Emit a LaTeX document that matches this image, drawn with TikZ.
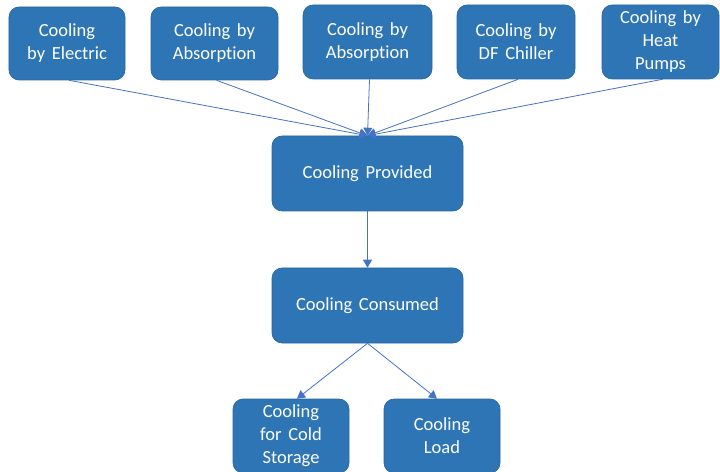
\documentclass[tikz,border=0pt]{standalone}
\usepackage{fontspec}
\setmainfont{Carlito}[WordSpace=1.6,Ligatures={NoCommon,TeX}]
\usetikzlibrary{arrows.meta}
\definecolor{boxblue}{RGB}{46,117,182}
\definecolor{boxedge}{RGB}{40,100,160}
\definecolor{linkblue}{RGB}{68,114,196}
\tikzset{
  box/.style={draw=boxedge, line width=0.6bp, fill=boxblue, rounded corners=10bp,
    text=white, align=center, inner sep=0pt,
    font=\fontsize{18.5bp}{23bp}\selectfont},
  link/.style={draw=linkblue, line width=0.8bp,
    -{Triangle[length=8bp,width=9bp]}}
}
\begin{document}
\begin{tikzpicture}[x=1bp,y=-1bp]
\useasboundingbox (0,0) rectangle (720,472);
\node[box, minimum width=116bp, minimum height=73bp] (b1) at (67,43.5) {Cooling\\by Electric};
\node[box, minimum width=127bp, minimum height=73bp] (b2) at (214.5,43.5) {Cooling by\\Absorption};
\node[box, minimum width=129bp, minimum height=74bp] (b3) at (367.5,42) {Cooling by\\Absorption};
\node[box, minimum width=118bp, minimum height=74bp] (b4) at (516,42) {Cooling by\\DF Chiller};
\node[box, minimum width=117bp, minimum height=74bp] (b5) at (660.5,42) {Cooling by\\Heat\\Pumps};
\node[box, minimum width=191bp, minimum height=75bp] (prov) at (367.5,173.5) {Cooling Provided};
\node[box, minimum width=191bp, minimum height=75bp] (cons) at (367.5,305.5) {Cooling Consumed};
\node[box, minimum width=116bp, minimum height=74bp] (cold) at (291,436) {Cooling\\for Cold\\Storage};
\node[box, minimum width=116bp, minimum height=74bp] (load) at (442,436) {Cooling\\Load};
\foreach \b in {b1,b2,b3,b4,b5}
  \draw[link] ([xshift=2bp]\b.south) -- (prov.north);
\draw[link] (prov.south) -- (cons.north);
\draw[link] (cons.south) -- ([xshift=6bp]cold.north);
\draw[link] (cons.south) -- ([xshift=-5bp]load.north);
\end{tikzpicture}
\end{document}
